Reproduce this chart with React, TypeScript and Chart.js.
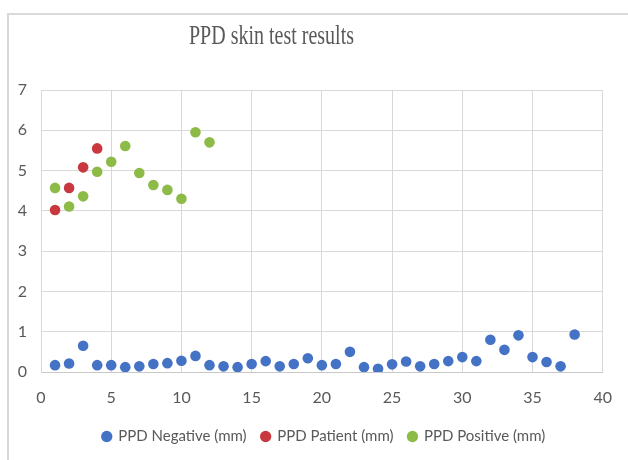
import React, { useEffect, useRef } from "react";
import { Chart, registerables } from "chart.js";

Chart.register(...registerables);

const chartTitle = "PPD skin test results";
const seriesNames = ["PPD Negative (mm)", "PPD Patient (mm)", "PPD Positive (mm)"];
const seriesColors = ["#4472C4", "#C8383E", "#8DBB48"];

const negativeX = [1, 2, 3, 4, 5, 6, 7, 8, 9, 10, 11, 12, 13, 14, 15, 16, 17, 18, 19, 20, 21, 22, 23, 24, 25, 26, 27, 28, 29, 30, 31, 32, 33, 34, 35, 36, 37, 38];
const negativeValues = [0.17, 0.21, 0.65, 0.17, 0.17, 0.12, 0.14, 0.2, 0.22, 0.28, 0.4, 0.17, 0.14, 0.12, 0.2, 0.27, 0.14, 0.2, 0.34, 0.17, 0.2, 0.5, 0.12, 0.08, 0.19, 0.26, 0.14, 0.2, 0.27, 0.37, 0.27, 0.8, 0.55, 0.91, 0.37, 0.25, 0.14, 0.93];

const patientX = [1, 2, 3, 4];
const patientValues = [4.02, 4.57, 5.08, 5.55];

const positiveX = [1, 2, 3, 4, 5, 6, 7, 8, 9, 10, 11, 12];
const positiveValues = [4.57, 4.11, 4.36, 4.97, 5.22, 5.61, 4.94, 4.64, 4.52, 4.3, 5.95, 5.7];

const xMin = 0;
const xMax = 40;
const xStep = 5;
const yMin = 0;
const yMax = 7;
const yStep = 1;

const toPoints = (xs: number[], ys: number[]) => xs.map((x, i) => ({ x, y: ys[i] }));

const titlePlugin = {
  id: "squeezedTitle",
  afterLayout(chart: any) {
    if (chart.legend) {
      chart.legend.left += 21;
      chart.legend.right += 21;
    }
  },
  afterDraw(chart: any) {
    const ctx = chart.ctx;
    ctx.save();
    ctx.font = '27px "Liberation Serif", "Times New Roman", serif';
    const w = ctx.measureText(chartTitle).width;
    const s = 165 / w;
    ctx.translate(271.5, 44);
    ctx.scale(s, 1);
    ctx.textAlign = "center";
    ctx.textBaseline = "alphabetic";
    ctx.fillStyle = "#595959";
    ctx.fillText(chartTitle, 0, 0);
    ctx.restore();
  },
};

export default function App() {
  const ref = useRef<HTMLCanvasElement | null>(null);

  useEffect(() => {
    if (!ref.current) return;
    const all = [
      toPoints(negativeX, negativeValues),
      toPoints(patientX, patientValues),
      toPoints(positiveX, positiveValues),
    ];
    const chart = new Chart(ref.current, {
      type: "scatter",
      data: {
        datasets: all.map((d, i) => ({
          label: seriesNames[i],
          data: d,
          backgroundColor: seriesColors[i],
          borderColor: seriesColors[i],
          pointRadius: 5.3,
          pointBorderWidth: 0,
          pointStyle: "circle",
        })),
      },
      options: {
        animation: false,
        responsive: false,
        devicePixelRatio: 1,
        layout: { padding: { top: 90, right: 22, bottom: 0, left: 0 } },
        plugins: {
          title: { display: false },
          tooltip: { enabled: false },
          legend: {
            display: true,
            position: "bottom",
            labels: {
              usePointStyle: true,
              pointStyle: "circle",
              boxWidth: 8,
              boxHeight: 8,
              padding: 15,
              color: "#595959",
              font: { family: "Lato, 'Open Sans', sans-serif", size: 15 },
            },
          },
        },
        scales: {
          x: {
            type: "linear",
            min: xMin,
            max: xMax,
            ticks: {
              stepSize: xStep,
              padding: 16,
              color: "#595959",
              font: { family: "Lato, 'Open Sans', sans-serif", size: 16 },
            },
            grid: { color: "#d9d9d9", lineWidth: 1, drawTicks: false },
            border: { color: "#c8c8c8", width: 1 },
            afterFit: (scale: any) => {
              scale.height = 42;
            },
          },
          y: {
            type: "linear",
            min: yMin,
            max: yMax,
            ticks: {
              stepSize: yStep,
              padding: 14,
              color: "#595959",
              font: { family: "Lato, 'Open Sans', sans-serif", size: 16 },
            },
            grid: { color: "#d9d9d9", lineWidth: 1, drawTicks: false },
            border: { color: "#d9d9d9", width: 1 },
            afterFit: (scale: any) => {
              scale.width = 41;
            },
          },
        },
      },
      plugins: [titlePlugin],
    });
    return () => chart.destroy();
  }, []);

  return (
    <div
      style={{
        position: "absolute",
        left: 0,
        top: 0,
        width: 628,
        height: 460,
        overflow: "hidden",
        background: "#ffffff",
      }}
    >
      <div
        style={{
          position: "absolute",
          left: 7,
          top: 13,
          width: 700,
          height: 500,
          border: "2px solid #d9d9d9",
          boxSizing: "border-box",
        }}
      />
      <canvas
        ref={ref}
        width={628}
        height={454}
        style={{ position: "absolute", left: 0, top: 0, width: 628, height: 454 }}
      />
    </div>
  );
}
